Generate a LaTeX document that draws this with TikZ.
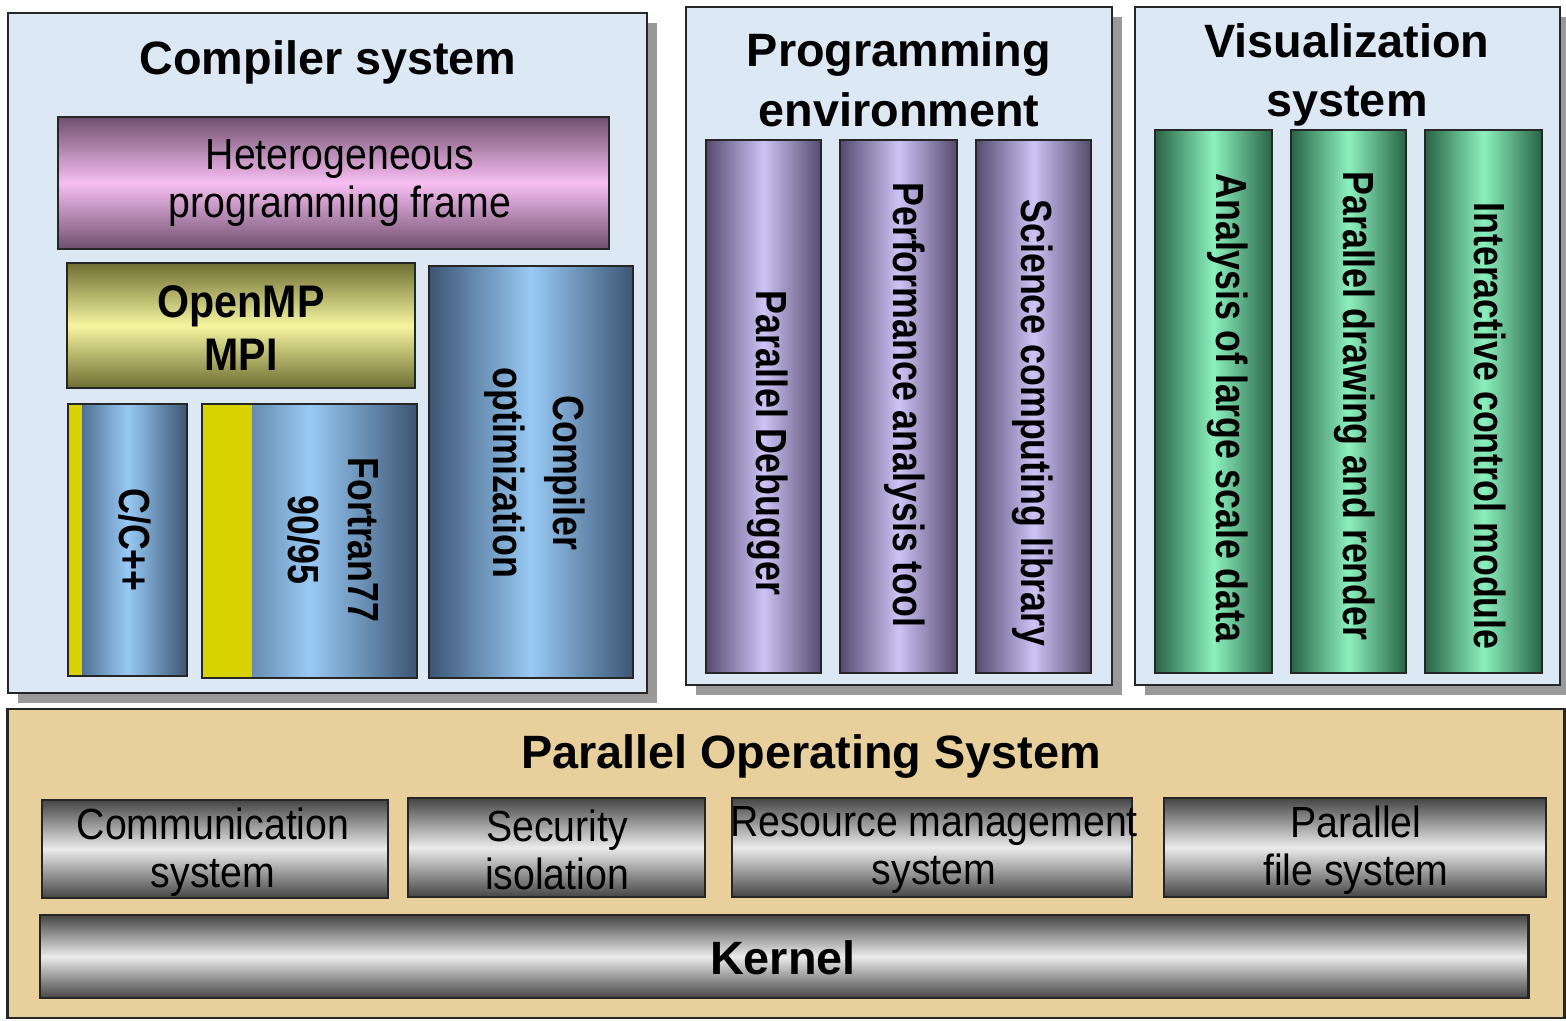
\documentclass[tikz,border=0pt]{standalone}
\usepackage{fontspec}
\setmainfont{Liberation Sans}
\newfontfamily\narrowsans{Liberation Sans}[FakeStretch=0.9]
\newfontfamily\slimsans{Liberation Sans}[FakeStretch=0.82]
\usepackage{xcolor}
\usetikzlibrary{shadows}
\definecolor{panelblue}{HTML}{DCE8F3}
\definecolor{paneltan}{HTML}{E8D09C}
\definecolor{pinkmid}{HTML}{F8BEF2}
\definecolor{pinkedge}{HTML}{6E506E}
\definecolor{yellowmid}{HTML}{F5F5A0}
\definecolor{yellowedge}{HTML}{6E6E32}
\definecolor{stripyellow}{HTML}{D7D200}
\definecolor{bluemid}{HTML}{98CAF5}
\definecolor{blueedge}{HTML}{3C5573}
\definecolor{purplemid}{HTML}{CDC3F5}
\definecolor{purpleedge}{HTML}{554B6E}
\definecolor{greenmid}{HTML}{8CF0BE}
\definecolor{greenedge}{HTML}{286446}
\definecolor{greymid}{HTML}{EBEBEB}
\definecolor{greyedge}{HTML}{454545}

\begin{document}
\begin{tikzpicture}[x=0.01cm, y=-0.01cm,
  box/.style={draw=black!85, line width=0.6pt, inner sep=0pt},
  panel/.style={box, fill=#1, drop shadow={shadow xshift=0.1cm, shadow yshift=-0.1cm, fill=black!40, opacity=1}},
  hbar/.style={box, top color=#1edge, bottom color=#1edge, middle color=#1mid},
  vbar/.style={box, left color=#1edge, right color=#1edge, middle color=#1mid},
  strip/.style={path picture={\fill[stripyellow] (path picture bounding box.north west) rectangle ++(#1,400);}},
  title/.style={font=\bfseries\fontsize{13.3}{17}\selectfont, align=center},
  boxtext/.style={font=\narrowsans\fontsize{12.4}{13.6}\selectfont, align=center},
  vtext/.style={font=\slimsans\bfseries\fontsize{12.4}{17}\selectfont, rotate=-90, align=center}]
  \useasboundingbox (0,0) rectangle (1566,1021);

  % upper panels
  \node[panel=panelblue, minimum width=6.39cm, minimum height=6.80cm] (comp) at (327.5,353) {};
  \node[panel=panelblue, minimum width=4.26cm, minimum height=6.78cm] (prog) at (899,346) {};
  \node[panel=panelblue, minimum width=4.25cm, minimum height=6.78cm] (vis) at (1347.5,346) {};
  \node[title] (comptitle) at (328,62) {Compiler system};
  \node[title] (progtitle) at (899,80) {Programming\\environment};
  \node[title] (vistitle) at (1347,75) {Visualization\\system};

  % compiler system
  \node[hbar=pink, minimum width=5.51cm, minimum height=1.32cm] (hetero) at (333.5,183) {};
  \node[boxtext] (heterotext) at (340,183) {Heterogeneous\\programming frame};
  \node[hbar=yellow, minimum width=3.48cm, minimum height=1.25cm] (openmp) at (241,325.5) {};
  \node[boxtext, font=\narrowsans\bfseries\fontsize{13}{15}\selectfont] (openmptext) at (241,328) {OpenMP\\MPI};
  \node[vbar=blue, strip=14, minimum width=1.19cm, minimum height=2.72cm] (ccpp) at (127.5,540) {};
  \node[vbar=blue, strip=50, minimum width=2.15cm, minimum height=2.74cm] (fortran) at (309.5,541) {};
  \node[vbar=blue, minimum width=2.04cm, minimum height=4.12cm] (copt) at (531,472) {};
  \node[vtext] (ccpptext) at (135,540) {C/C++};
  \node[vtext] (fortrantext) at (333,540) {Fortran77\\90/95};
  \node[vtext] (copttext) at (535,473) {Compiler\\optimization};

  % programming environment
  \node[vbar=purple, minimum width=1.15cm, minimum height=5.33cm] (debugger) at (763.5,406.5) {};
  \node[vbar=purple, minimum width=1.17cm, minimum height=5.33cm] (perf) at (898.5,406.5) {};
  \node[vbar=purple, minimum width=1.15cm, minimum height=5.33cm] (scilib) at (1033.5,406.5) {};
  \node[vtext] (debuggertext) at (768,443) {Parallel Debugger};
  \node[vtext] (perftext) at (905,405) {Performance analysis tool};
  \node[vtext] (scilibtext) at (1033,423) {Science computing library};

  % visualization system
  \node[vbar=green, minimum width=1.17cm, minimum height=5.43cm] (bigdata) at (1213.5,401.5) {};
  \node[vbar=green, minimum width=1.15cm, minimum height=5.43cm] (render) at (1348.5,401.5) {};
  \node[vbar=green, minimum width=1.17cm, minimum height=5.43cm] (interact) at (1483.5,401.5) {};
  \node[vtext] (bigdatatext) at (1228,408) {Analysis of large scale data};
  \node[vtext] (rendertext) at (1355,406) {Parallel drawing and render};
  \node[vtext] (interacttext) at (1490,426) {Interactive control module};

  % parallel operating system
  \node[box, fill=paneltan, minimum width=15.56cm, minimum height=3.09cm] (pos) at (786,863.5) {};
  \node[title] (postitle) at (811,757) {Parallel Operating System};
  \node[hbar=grey, minimum width=3.46cm, minimum height=0.98cm] (comm) at (215,849) {};
  \node[hbar=grey, minimum width=2.97cm, minimum height=0.99cm] (secu) at (556.5,847.5) {};
  \node[hbar=grey, minimum width=4.00cm, minimum height=0.99cm] (resm) at (932,847.5) {};
  \node[hbar=grey, minimum width=3.82cm, minimum height=0.99cm] (pfs) at (1355,847.5) {};
  \node[boxtext] (commtext) at (213,852) {Communication\\system};
  \node[boxtext] (secutext) at (557,850) {Security\\isolation};
  \node[boxtext] (resmtext) at (934,850) {Resource management\\system};
  \node[boxtext] (pfstext) at (1356,850) {Parallel\\file system};
  \node[hbar=grey, minimum width=14.88cm, minimum height=0.83cm] (kernel) at (784,956.5) {};
  \node[title] (kerneltext) at (783,958) {Kernel};
\end{tikzpicture}
\end{document}
